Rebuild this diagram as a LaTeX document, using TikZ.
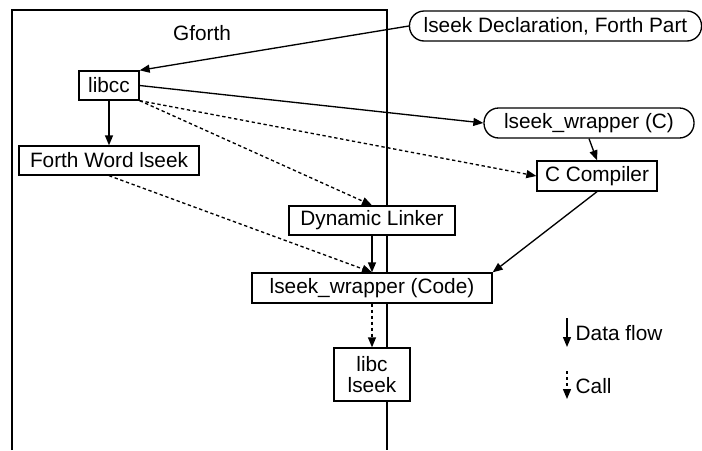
\documentclass[tikz,border=0pt]{standalone}
\usepackage{fontspec}
\setmainfont{Liberation Sans}
\usetikzlibrary{arrows.meta}
\begin{document}
\begin{tikzpicture}[x=0.75pt,y=-0.75pt,
  line width=1pt,
  font=\fontsize{15.6}{16}\selectfont,
  box/.style={draw,fill=white,rectangle,inner sep=0pt,align=center},
  pill/.style={draw,fill=white,rectangle,rounded corners=11pt,inner sep=0pt},
  flow/.style={-{Triangle[length=7.5pt,width=6pt]}},
  callarr/.style={-{Triangle[length=7.5pt,width=6pt]},dash pattern=on 2.5pt off 2pt}]
\useasboundingbox (0,0) rectangle (702,450);
% Gforth frame
\draw (12,450) -- (12,10) -- (387,10) -- (387,450);
\node (gforth) at (202,33) {Gforth};
% nodes
\node[box,minimum width=45pt,minimum height=21.75pt] (libcc) at (109,85.5) {libcc};
\node[box,minimum width=135pt,minimum height=21.75pt] (fwl) at (109,160.5) {Forth Word lseek};
\node[pill,minimum width=219pt,minimum height=22.5pt] (decl) at (555.5,26) {lseek Declaration, Forth Part};
\node[pill,minimum width=157.5pt,minimum height=22.5pt] (wrapc) at (589,123) {lseek\_wrapper (C)};
\node[box,minimum width=90pt,minimum height=22.5pt] (cc) at (597,176) {C Compiler};
\node[box,minimum width=124.5pt,minimum height=21.75pt] (dl) at (372,220.5) {Dynamic Linker};
\node[box,minimum width=180pt,minimum height=22.5pt] (wcode) at (372,288) {lseek\_wrapper (Code)};
\node[box,minimum width=57pt,minimum height=39.75pt] (libc) at (372,374.5) {libc\\lseek};
% connectors
\draw[flow] (decl.west) -- (libcc.north east);
\draw[flow] (libcc.east) -- (wrapc.west);
\draw[flow] (libcc.south) -- (fwl.north);
\draw[callarr] (libcc.south east) -- (cc.west);
\draw[callarr] (libcc.south east) -- (dl.north);
\draw[callarr] (fwl.south) -- (wcode.north);
\draw[flow] (dl.south) -- (wcode.north);
\draw[flow] (wrapc.south) -- (cc.north);
\draw[flow] (cc.south) -- (wcode.north east);
\draw[callarr] (wcode.south) -- (libc.north);
% legend
\coordinate (d1) at (567,318);
\coordinate (d2) at (567,347);
\coordinate (c1) at (567,371);
\coordinate (c2) at (567,399);
\draw[flow] (d1) -- (d2);
\draw[callarr] (c1) -- (c2);
\node[anchor=west,inner sep=0pt] (ldata) at (575,333) {Data flow};
\node[anchor=west,inner sep=0pt] (lcall) at (575,386) {Call};
\end{tikzpicture}
\end{document}
